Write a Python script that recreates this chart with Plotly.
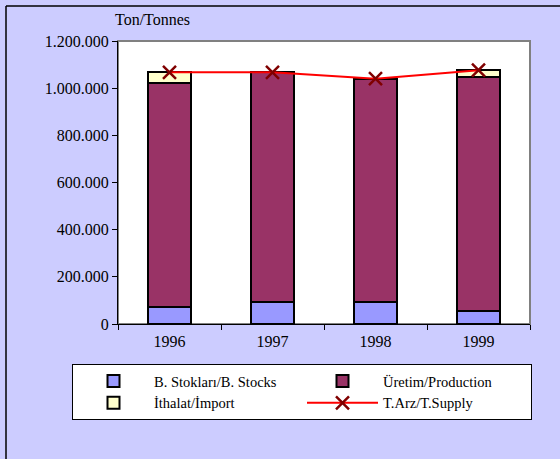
import plotly.graph_objects as go

years = ["1996", "1997", "1998", "1999"]
stocks = [73000, 92000, 92000, 56000]
production = [950000, 975000, 948000, 993000]
imports = [44000, None, None, 27000]
supply = [1067000, 1067000, 1040000, 1076000]

names = ["B. Stokları/B. Stocks", "Üretim/Production", "İthalat/İmport", "T.Arz/T.Supply"]

FONT = "Liberation Serif"
bar_line = dict(color="black", width=2)

fig = go.Figure()
fig.add_trace(go.Bar(x=years, y=stocks, name=names[0],
                     marker=dict(color="#9999FF", line=bar_line)))
fig.add_trace(go.Bar(x=years, y=production, name=names[1],
                     marker=dict(color="#993366", line=bar_line)))
fig.add_trace(go.Bar(x=years, y=imports, name=names[2],
                     marker=dict(color="#FFFFCC", line=bar_line)))
fig.add_trace(go.Scatter(x=years, y=supply, name=names[3], mode="lines+markers",
                         line=dict(color="#FF0000", width=2),
                         marker=dict(symbol="x-thin", size=13,
                                     line=dict(color="#800000", width=2.5))))

L, R, T, B = 118, 30, 41, 135
W, H = 560, 459
pw, ph = W - L - R, H - T - B

def px(x):
    return (x - L) / pw

def py(y):
    return (H - B - y) / ph

fig.update_layout(
    width=W, height=H,
    margin=dict(l=L, r=R, t=T, b=B, pad=0),
    barmode="stack", bargap=0.59,
    paper_bgcolor="#CCCCFF", plot_bgcolor="white",
    separators=",.",
    font=dict(family=FONT, size=16, color="black"),
    showlegend=True,
    legend=dict(orientation="h", x=px(72), y=py(364), xanchor="left", yanchor="top",
                bgcolor="white", bordercolor="black", borderwidth=1,
                font=dict(family=FONT, size=14.5), entrywidth=143, entrywidthmode="pixels",
                traceorder="normal", itemwidth=71),
    xaxis=dict(type="category", showline=True, linecolor="black", linewidth=1,
               ticks="outside", ticklen=5, tickcolor="black", tickson="boundaries",
               showgrid=False, tickfont=dict(family=FONT, size=16), ticklabelstandoff=3),
    yaxis=dict(range=[0, 1200000], dtick=200000, tickformat=",d", showline=True,
               linecolor="black", linewidth=1, ticks="outside", ticklen=5,
               tickcolor="black", showgrid=False, zeroline=False,
               tickfont=dict(family=FONT, size=16)),
    shapes=[
        dict(type="rect", xref="paper", yref="paper", x0=0, x1=1, y0=0, y1=1,
             line=dict(color="#808080", width=2), layer="below"),
        dict(type="line", xref="paper", yref="paper", x0=px(6), x1=px(6),
             y0=py(6), y1=py(470), line=dict(color="black", width=1.5)),
        dict(type="line", xref="paper", yref="paper", x0=px(6), x1=px(570),
             y0=py(6), y1=py(6), line=dict(color="black", width=1.5)),
    ],
    annotations=[
        dict(text="Ton/Tonnes", xref="paper", yref="paper", x=px(152), y=py(20),
             showarrow=False, xanchor="center", yanchor="middle",
             font=dict(family=FONT, size=16)),
    ],
)

fig.write_html("out.html", config={"displayModeBar": False},
               post_script="document.body.style.margin='0';")
